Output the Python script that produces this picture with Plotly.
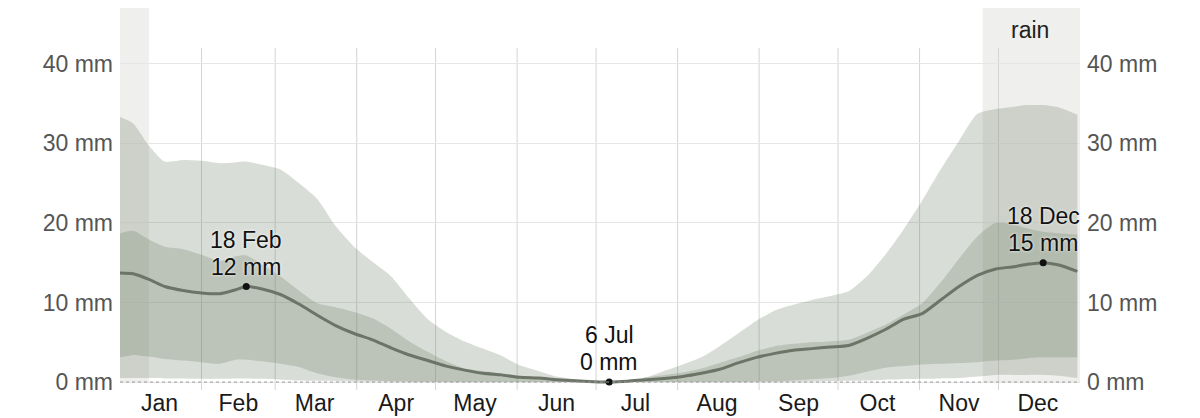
import plotly.graph_objects as go

# ---- data ----
dates = [
    "2023-01-01", "2023-01-06", "2023-01-12", "2023-01-18", "2023-01-25",
    "2023-02-01", "2023-02-08", "2023-02-14", "2023-02-18", "2023-02-24",
    "2023-03-03", "2023-03-10", "2023-03-17", "2023-03-24", "2023-03-31",
    "2023-04-07", "2023-04-14", "2023-04-21", "2023-04-28", "2023-05-05",
    "2023-05-12", "2023-05-19", "2023-05-26", "2023-06-02", "2023-06-09",
    "2023-06-16", "2023-06-23", "2023-06-30", "2023-07-06", "2023-07-13",
    "2023-07-20", "2023-07-27", "2023-08-03", "2023-08-10", "2023-08-17",
    "2023-08-24", "2023-08-31", "2023-09-07", "2023-09-14", "2023-09-21",
    "2023-09-28", "2023-10-05", "2023-10-12", "2023-10-19", "2023-10-26",
    "2023-11-02", "2023-11-09", "2023-11-16", "2023-11-23", "2023-11-30",
    "2023-12-07", "2023-12-12", "2023-12-18", "2023-12-24", "2023-12-31",
]
p90 = [33.3, 32.5, 29.7, 27.7, 27.9, 27.8, 27.5, 27.6, 27.7, 27.3,
       26.7, 25.0, 23.0, 19.6, 17.0, 15.1, 13.3, 10.5, 7.9, 6.3,
       5.1, 4.2, 3.3, 2.1, 1.4, 0.7, 0.35, 0.1, 0.05, 0.15,
       0.6, 1.4, 2.2, 3.1, 4.5, 6.1, 7.7, 9.0, 9.7, 10.3,
       10.8, 11.4, 13.3, 16.0, 19.2, 22.8, 26.7, 30.3, 33.7, 34.3,
       34.6, 34.8, 34.8, 34.5, 33.6]
p75 = [18.7, 19.0, 17.9, 17.0, 16.7, 16.0, 15.2, 15.8, 15.9, 14.8,
       13.3, 11.5, 9.9, 9.4, 8.8, 8.0, 6.7, 5.1, 3.8, 2.6,
       1.7, 1.4, 1.1, 0.8, 0.6, 0.4, 0.25, 0.1, 0.05, 0.2,
       0.6, 0.9, 1.2, 1.7, 2.4, 3.1, 3.9, 4.5, 4.8, 5.0,
       5.1, 5.3, 6.2, 7.2, 8.5, 9.9, 12.5, 15.5, 18.3, 20.0,
       19.8, 19.3, 18.9, 18.7, 18.5]
p25 = [3.1, 3.4, 3.2, 2.9, 2.7, 2.5, 2.3, 2.8, 2.8, 2.6,
       2.3, 1.9, 1.1, 0.6, 0.3, 0.2, 0.1, 0.05, 0.03, 0.02,
       0.01, 0.0, 0.0, 0.0, 0.0, 0.0, 0.0, 0.0, 0.0, 0.0,
       0.0, 0.0, 0.0, 0.0, 0.01, 0.02, 0.05, 0.1, 0.2, 0.35,
       0.5, 0.8, 1.3, 1.8, 2.0, 2.2, 2.3, 2.4, 2.5, 2.7,
       2.8, 3.0, 3.1, 3.1, 3.1]
p10 = [0.5, 0.5, 0.5, 0.45, 0.45, 0.4, 0.4, 0.45, 0.45, 0.4,
       0.3, 0.2, 0.15, 0.1, 0.05, 0.03, 0.02, 0.0, 0.0, 0.0,
       0.0, 0.0, 0.0, 0.0, 0.0, 0.0, 0.0, 0.0, 0.0, 0.0,
       0.0, 0.0, 0.0, 0.0, 0.0, 0.0, 0.0, 0.0, 0.02, 0.05,
       0.1, 0.15, 0.2, 0.3, 0.35, 0.4, 0.45, 0.5, 0.7, 0.9,
       0.9, 0.9, 0.9, 0.8, 0.5]
median = [13.7, 13.6, 12.9, 12.0, 11.5, 11.2, 11.1, 11.6, 12.0, 11.7,
          11.0, 9.8, 8.4, 7.1, 6.1, 5.3, 4.3, 3.4, 2.7, 2.0,
          1.5, 1.1, 0.9, 0.6, 0.5, 0.3, 0.15, 0.05, 0.0, 0.1,
          0.3, 0.45, 0.7, 1.1, 1.6, 2.4, 3.1, 3.6, 4.0, 4.2,
          4.4, 4.6, 5.5, 6.6, 7.9, 8.6, 10.3, 12.0, 13.4, 14.2,
          14.5, 14.8, 15.0, 14.7, 13.9]

highlight_dates = ["2023-02-18", "2023-07-06", "2023-12-18"]
highlight_values = [12.0, 0.0, 15.0]
highlight_date_labels = ["18 Feb", "6 Jul", "18 Dec"]
highlight_value_labels = ["12 mm", "0 mm", "15 mm"]

month_names = ["Jan", "Feb", "Mar", "Apr", "May", "Jun",
               "Jul", "Aug", "Sep", "Oct", "Nov", "Dec"]
month_mid = ["2023-01-16", "2023-02-15", "2023-03-16", "2023-04-16",
             "2023-05-16", "2023-06-16", "2023-07-16", "2023-08-16",
             "2023-09-16", "2023-10-16", "2023-11-16", "2023-12-16"]
month_starts = ["2023-02-01", "2023-03-01", "2023-04-01", "2023-05-01",
                "2023-06-01", "2023-07-01", "2023-08-01", "2023-09-01",
                "2023-10-01", "2023-11-01", "2023-12-01"]
rain_periods = [("2023-01-01", "2023-01-12"), ("2023-11-25", "2024-01-01")]
rain_label_date = "2023-12-13"

y_ticks = [0, 10, 20, 30, 40]
y_tick_text = ["0 mm", "10 mm", "20 mm", "30 mm", "40 mm"]

# ---- styling ----
FONT = "Liberation Sans, Arial, Helvetica, sans-serif"
OUTER = "rgba(103,119,95,0.25)"
INNER = "rgba(103,119,95,0.25)"
LINE = "#6b7466"
FS = 23

fig = go.Figure()

band_line = dict(width=0, shape="spline", smoothing=0.6)
fig.add_trace(go.Scatter(x=dates, y=p10, mode="lines", line=band_line,
                         hoverinfo="skip", showlegend=False))
fig.add_trace(go.Scatter(x=dates, y=p90, mode="lines", line=band_line,
                         fill="tonexty", fillcolor=OUTER, hoverinfo="skip", showlegend=False))
fig.add_trace(go.Scatter(x=dates, y=p25, mode="lines", line=band_line,
                         hoverinfo="skip", showlegend=False))
fig.add_trace(go.Scatter(x=dates, y=p75, mode="lines", line=band_line,
                         fill="tonexty", fillcolor=INNER, hoverinfo="skip", showlegend=False))
fig.add_trace(go.Scatter(x=dates, y=median, mode="lines",
                         line=dict(color=LINE, width=3, shape="spline", smoothing=0.6),
                         showlegend=False))
fig.add_trace(go.Scatter(x=highlight_dates, y=highlight_values, mode="markers",
                         marker=dict(color="#111111", size=7), showlegend=False, cliponaxis=False))
# invisible trace so the right-hand axis renders
fig.add_trace(go.Scatter(x=[dates[0]], y=[0], yaxis="y2", mode="markers",
                         marker=dict(opacity=0), hoverinfo="skip", showlegend=False))

shapes = []
for a, b in rain_periods:
    shapes.append(dict(type="rect", xref="x", yref="y", x0=a, x1=b, y0=0, y1=47,
                       fillcolor="#efefed", line=dict(width=0), layer="below"))
for m in month_starts:
    shapes.append(dict(type="line", xref="x", yref="y", x0=m, x1=m, y0=-1, y1=42,
                       line=dict(color="#d4d4d4", width=1), layer="below"))
shapes.append(dict(type="line", xref="paper", yref="y", x0=0, x1=1, y0=0, y1=0,
                   line=dict(color="#9a9a9a", width=1, dash="dot"), layer="above"))

label_font = dict(family=FONT, size=FS, color="#111111", shadow="0px 0px 3px white")
annotations = []
for d, v, dl, vl in zip(highlight_dates, highlight_values,
                        highlight_date_labels, highlight_value_labels):
    annotations.append(dict(x=d, y=v, text=vl, showarrow=False, yanchor="middle",
                            yshift=20, font=label_font))
    annotations.append(dict(x=d, y=v, text=dl, showarrow=False, yanchor="middle",
                            yshift=47, font=label_font))
annotations.append(dict(x=rain_label_date, y=44.2, text="rain", showarrow=False,
                        font=dict(family=FONT, size=FS, color="#222222")))

yaxis_common = dict(range=[-1, 47], tickvals=y_ticks, ticktext=y_tick_text,
                    tickfont=dict(family=FONT, size=FS, color="#555555"),
                    zeroline=False, fixedrange=True, ticks="", showline=False,
                    automargin=False)

fig.update_layout(
    width=1200, height=418,
    margin=dict(l=120, r=120, t=8, b=28),
    paper_bgcolor="white", plot_bgcolor="white",
    showlegend=False,
    shapes=shapes, annotations=annotations,
    xaxis=dict(type="date", range=["2023-01-01", "2024-01-01"],
               tickvals=month_mid, ticktext=month_names,
               tickfont=dict(family=FONT, size=FS, color="#1a1a1a"),
               showgrid=False, zeroline=False, showline=False, ticks="",
               ticklabelstandoff=-3, automargin=False),
    yaxis=dict(**yaxis_common, showgrid=True, gridcolor="#e6e6e6", gridwidth=1,
               ticklabelstandoff=6),
    yaxis2=dict(**yaxis_common, overlaying="y", side="right", showgrid=False,
                ticklabelstandoff=6),
)

fig.write_html("out.html")
